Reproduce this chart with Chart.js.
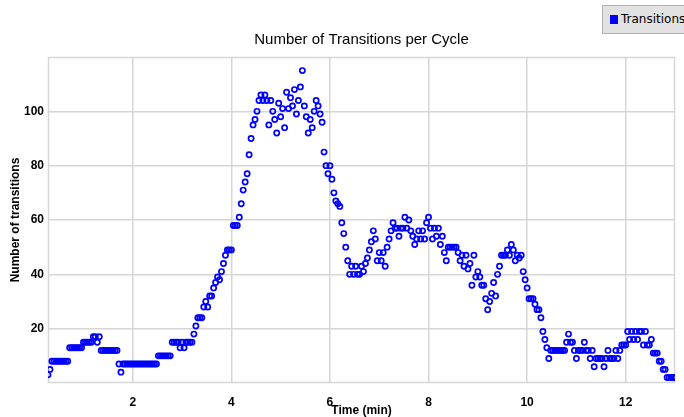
<!DOCTYPE html>
<html>
<head>
<meta charset="utf-8">
<script src="https://cdn.jsdelivr.net/npm/chart.js@4.4.1/dist/chart.umd.min.js"></script>
<style>
  body { margin: 0; width: 684px; height: 417px; overflow: hidden; background: #fff; position: relative; }
  #legend { position: absolute; left: 602px; top: 5px; width: 100px; height: 27px; background: #e2e2e2;
            border: 1px solid #b0b0b0; font: 12px "DejaVu Sans", sans-serif; white-space: nowrap; color: #000; }
  #legend .box { position: absolute; left: 7px; top: 9px; width: 8px; height: 9px; background: #0000ff; }
  #legend .txt { position: absolute; left: 18px; top: 6px; }
</style>
</head>
<body>
<canvas id="chart" width="684" height="417"></canvas>
<div id="legend"><span class="box"></span><span class="txt">Transitions</span></div>
<script>
// one sample every 0.04 min, starting at 0.28 min
const startTime = 0.28;
const timeStep = 0.04;
const transitions = [
  3,5,8,8,8,8,8,8,8,8,8,13,13,13,13,13,13,13,15,15,15,15,15,17,17,
  15,17,12,12,12,12,12,12,12,12,12,7,4,7,7,7,7,7,7,7,7,7,7,7,7,
  7,7,7,7,7,7,10,10,10,10,10,10,10,15,15,15,15,13,15,13,15,15,15,15,18,
  21,24,24,24,28,30,28,32,32,35,37,39,38,41,44,47,49,49,49,58,58,58,61,66,71,
  74,77,84,90,95,97,100,104,106,104,106,104,95,104,100,97,92,103,98,101,94,107,101,105,102,
  108,99,104,109,115,102,98,92,97,94,100,104,102,99,96,85,80,77,80,75,70,67,66,65,59,
  55,50,45,40,43,40,43,40,40,43,41,44,46,49,52,56,53,45,48,45,48,43,50,53,56,
  59,57,57,54,57,57,61,57,60,56,54,51,53,56,53,56,53,59,61,57,53,57,54,57,51,
  54,48,45,50,50,50,50,50,48,45,47,43,47,42,44,36,47,39,41,39,36,36,31,27,30,
  33,37,32,40,43,47,47,47,49,47,51,49,45,47,46,47,41,38,35,31,31,31,29,27,27,
  24,19,16,13,9,12,12,12,12,12,12,12,12,15,18,15,15,12,9,12,12,12,15,12,12,
  9,12,6,9,9,9,9,6,9,12,9,9,9,12,9,12,14,14,14,19,16,19,16,19,16,
  19,19,14,19,14,14,16,11,11,11,8,8,5,5,2,2,2,2,2
];
const xTicks = [2, 4, 6, 8, 10, 12];
const yTicks = [20, 40, 60, 80, 100];
const chartTitle = 'Number of Transitions per Cycle';

const times = transitions.map((_, i) => +(startTime + i * timeStep).toFixed(2));
const gridColor = '#d6d6d6';
const fontFamily = '"Liberation Sans", Arial, sans-serif';
const tickFont = { family: fontFamily, size: 12, weight: 'bold' };

// plot frame + title centred over the plot area (not the whole canvas)
const framePlugin = {
  id: 'frame',
  beforeDatasetsDraw(chart) {
    const { ctx, chartArea: a } = chart;
    ctx.save();
    ctx.strokeStyle = gridColor;
    ctx.lineWidth = 1.5;
    ctx.strokeRect(a.left + 0.5, a.top + 0.5, a.width - 1, a.height - 1);
    ctx.restore();
  },
  afterDraw(chart) {
    const { ctx, chartArea: a } = chart;
    ctx.save();
    ctx.fillStyle = '#000';
    ctx.font = '15px ' + fontFamily;
    ctx.textAlign = 'center';
    ctx.textBaseline = 'middle';
    ctx.fillText(chartTitle, (a.left + a.right) / 2, 40);
    ctx.restore();
  }
};

new Chart(document.getElementById('chart'), {
  type: 'scatter',
  data: {
    datasets: [{
      label: 'Transitions',
      data: times.map((t, i) => ({ x: t, y: transitions[i] })),
      pointStyle: 'circle',
      pointRadius: 2.6,
      pointHoverRadius: 2.6,
      borderWidth: 1.7,
      borderColor: '#0000ff',
      backgroundColor: 'rgba(0,0,0,0)'
    }]
  },
  options: {
    responsive: false,
    animation: false,
    layout: { padding: { left: 0, right: 9, top: 57, bottom: 0 } },
    plugins: {
      legend: { display: false },
      tooltip: { enabled: false },
      title: { display: false }
    },
    scales: {
      x: {
        type: 'linear',
        min: 0.28,
        max: 13,
        afterBuildTicks: s => { s.ticks = xTicks.map(v => ({ value: v })); },
        afterFit: s => { s.height = 34; },
        grid: { color: gridColor, lineWidth: 1.5, drawTicks: false },
        border: { display: false },
        ticks: { color: '#000', font: tickFont, padding: 12, maxRotation: 0, autoSkip: false },
        title: {
          display: true,
          text: 'Time (min)',
          color: '#000',
          font: { family: fontFamily, size: 12, weight: 'bold', lineHeight: 1 },
          padding: { top: 0, bottom: 0 }
        }
      },
      y: {
        min: 0,
        max: 120,
        afterBuildTicks: s => { s.ticks = yTicks.map(v => ({ value: v })); },
        afterFit: s => { s.width = 48; },
        grid: { color: gridColor, lineWidth: 1.5, drawTicks: false },
        border: { display: false },
        ticks: { color: '#000', font: tickFont, padding: 4 },
        title: {
          display: true,
          text: 'Number of transitions',
          color: '#000',
          font: { family: fontFamily, size: 12, weight: 'bold', lineHeight: 1.2 },
          padding: { top: 8, bottom: 0 }
        }
      }
    }
  },
  plugins: [framePlugin]
});
</script>
</body>
</html>
